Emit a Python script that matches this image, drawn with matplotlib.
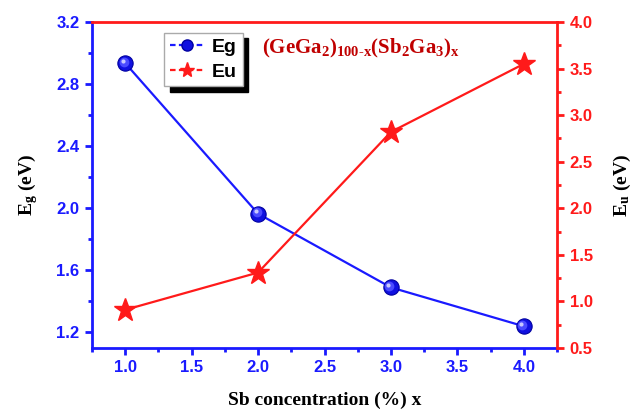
import matplotlib
matplotlib.use('Agg')
from matplotlib import pyplot as plt
from matplotlib.ticker import MultipleLocator
from matplotlib.lines import Line2D
from matplotlib.font_manager import FontProperties
import matplotlib.transforms as mtransforms

plt.rcParams['mathtext.fontset'] = 'custom'
plt.rcParams['mathtext.rm'] = 'Liberation Serif:bold'
plt.rcParams['mathtext.bf'] = 'Liberation Serif:bold'
plt.rcParams['mathtext.it'] = 'Liberation Serif:bold'

# data
sb_x = [1.0, 2.0, 3.0, 4.0]
eg = [2.935, 1.965, 1.49, 1.24]
eu = [0.91, 1.31, 2.82, 3.55]

blue = '#1a1aff'
red = '#ff1a1a'
dark_red = '#c00000'
tick_fp = FontProperties(family='Liberation Sans', weight='bold', size=12)
label_font = {'family': 'Liberation Serif', 'weight': 'bold', 'size': 14}

fig = plt.figure(figsize=(6.33, 4.11), dpi=100)
ax = fig.add_axes([0.1453, 0.1533, 0.7347, 0.7932])
ax2 = ax.twinx()

# Eg curve with shaded spheres
ax.plot(sb_x, eg, color=blue, lw=1.6, zorder=2)
ax.plot(sb_x, eg, ls='none', marker='o', ms=11, mfc='#1010e0', mec='#0000a0',
        mew=0.8, zorder=3)
shine = mtransforms.offset_copy(ax.transData, fig=fig, x=-1.5, y=1.5, units='dots')
ax.plot(sb_x, eg, ls='none', marker='o', ms=7, mfc='#4a4aff', mec='none',
        transform=shine, zorder=4)
shine2 = mtransforms.offset_copy(ax.transData, fig=fig, x=-2.5, y=2.5, units='dots')
ax.plot(sb_x, eg, ls='none', marker='o', ms=3, mfc='#c8c8ff', mec='none',
        transform=shine2, zorder=5)

# Eu curve
ax2.plot(sb_x, eu, color=red, lw=1.6, marker='*', ms=17,
         mfc=red, mec=red, zorder=3)

ax.set_xlim(0.75, 4.25)
ax.set_ylim(1.1, 3.2)
ax2.set_ylim(0.5, 4.0)

ax.xaxis.set_major_locator(MultipleLocator(0.5))
ax.xaxis.set_minor_locator(MultipleLocator(0.25))
ax.yaxis.set_major_locator(MultipleLocator(0.4))
ax.yaxis.set_minor_locator(MultipleLocator(0.2))
ax2.yaxis.set_major_locator(MultipleLocator(0.5))
ax2.yaxis.set_minor_locator(MultipleLocator(0.25))

# spine colours
for s in ['left', 'bottom']:
    ax.spines[s].set_color(blue)
    ax.spines[s].set_linewidth(2)
ax.spines['top'].set_color(red)
ax.spines['top'].set_linewidth(2)
ax.spines['right'].set_visible(False)
ax2.spines['right'].set_color(red)
ax2.spines['right'].set_linewidth(2)
for s in ['left', 'bottom', 'top']:
    ax2.spines[s].set_visible(False)

ax.tick_params(axis='x', which='both', direction='out', colors=blue, width=2, top=False)
ax.tick_params(axis='y', which='both', direction='out', colors=blue, width=2)
ax.tick_params(which='major', length=5, pad=4)
ax.tick_params(which='minor', length=3)
ax2.tick_params(axis='y', which='both', direction='out', colors=red, width=2)
ax2.tick_params(which='major', length=5, pad=4)
ax2.tick_params(which='minor', length=3)

for lab in ax.get_xticklabels() + ax.get_yticklabels() + ax2.get_yticklabels():
    lab.set_fontproperties(tick_fp)

ax.set_xlabel('Sb concentration (%) x', fontdict=label_font, labelpad=12)
ax.set_ylabel(r'E$_\mathregular{g}$ (eV)', fontdict=label_font, labelpad=12)
ax2.set_ylabel(r'E$_\mathregular{u}$ (eV)', fontdict=label_font, rotation=90, labelpad=14)

ax.text(0.365, 0.92, r'$\mathbf{(GeGa_2)_{100\text{-}x}(Sb_2Ga_3)_x}$',
        transform=ax.transAxes, color=dark_red, fontsize=15, va='center', ha='left')

# legend proxies with short dashed lines
h1 = Line2D([], [], color=blue, ls=(0, (2.5, 1.5)), lw=1.6, marker='o', ms=8,
            mfc='#1010e0', mec='#0000a0', label='Eg')
h2 = Line2D([], [], color=red, ls=(0, (2.5, 1.5)), lw=1.6, marker='*', ms=11,
            mfc=red, mec=red, label='Eu')
leg = ax.legend(handles=[h1, h2], loc='upper left', bbox_to_anchor=(0.155, 0.967),
                frameon=True, shadow={'color': 'black', 'alpha': 1, 'ox': 4, 'oy': -4},
                fancybox=False, handlelength=1.8, handletextpad=0.35,
                borderpad=0.3, labelspacing=0.35, borderaxespad=0,
                prop={'family': 'Liberation Sans', 'weight': 'bold', 'size': 14})
leg.get_frame().set_edgecolor('#aaaaaa')
leg.get_frame().set_linewidth(1.0)

fig.savefig('out.png', dpi=100)
